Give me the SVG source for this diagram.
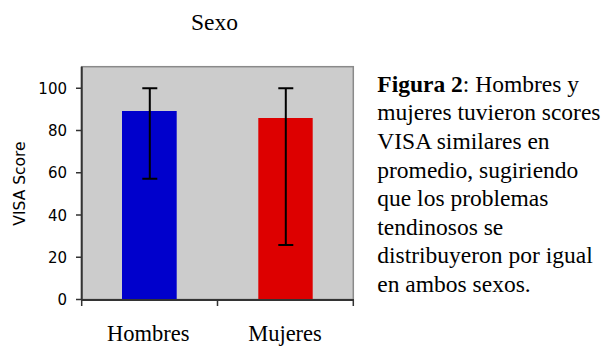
<svg xmlns="http://www.w3.org/2000/svg" width="606" height="347" viewBox="0 0 606 347">
<style>
.serif{font-family:"Liberation Serif","Times New Roman",serif;font-size:23.5px;fill:#000}
.cat{font-family:"Liberation Serif","Times New Roman",serif;font-size:22.5px;fill:#000;text-anchor:middle}
.tick{font-family:"DejaVu Sans",Verdana,sans-serif;font-size:15px;fill:#000;text-anchor:end}
.axis{stroke:#333;stroke-width:2;fill:none}
.err{stroke:#000;stroke-width:2;fill:none}
</style>
<rect width="606" height="347" fill="#fff"/>
<text class="serif" x="214.5" y="30" text-anchor="middle">Sexo</text>
<g id="plot">
<rect x="81.7" y="66.7" width="271.6" height="232.8" fill="#cccccc" stroke="#8a8a8a" stroke-width="1.5"/>
</g>
<g id="bar-hombres">
<rect x="122" y="111" width="54.7" height="188.5" fill="#0000cc"/>
</g>
<g id="bar-mujeres">
<rect x="258.3" y="118" width="54.4" height="181.5" fill="#dd0000"/>
</g>
<g id="errorbars">
<path class="err" d="M149.8 88.3V178.7M142.3 88.3H157.3M142.3 178.7H157.3"/>
<path class="err" d="M285.8 88.3V245M278.3 88.3H293.3M278.3 245H293.3"/>
</g>
<g id="axes">
<path class="axis" d="M81.7 66.7V300M81 300H354"/>
<path stroke="#333" stroke-width="1.5" d="M76 299.5H82M76 257.3H82M76 215.1H82M76 172.8H82M76 130.6H82M76 88.3H82M81.7 300V306M217.5 300V306M353.3 300V306"/>
</g>
<g id="ticklabels">
<text class="tick" x="67" y="305">0</text>
<text class="tick" x="67" y="262.8">20</text>
<text class="tick" x="67" y="220.6">40</text>
<text class="tick" x="67" y="178.3">60</text>
<text class="tick" x="67" y="136.1">80</text>
<text class="tick" x="67" y="93.8">100</text>
</g>
<text font-family="DejaVu Sans,Verdana,sans-serif" font-size="15.5" text-anchor="middle" transform="translate(24.5 183.5) rotate(-90)">VISA Score</text>
<text class="cat" x="148.3" y="341">Hombres</text>
<text class="cat" x="285" y="341">Mujeres</text>
<g id="caption" class="serif">
<text class="serif" x="377.3" y="91.7"><tspan font-weight="bold">Figura 2</tspan>: Hombres y</text>
<text class="serif" x="377.3" y="120.3">mujeres tuvieron scores</text>
<text class="serif" x="377.3" y="148.9">VISA similares en</text>
<text class="serif" x="377.3" y="177.5">promedio, sugiriendo</text>
<text class="serif" x="377.3" y="206.1">que los problemas</text>
<text class="serif" x="377.3" y="234.7">tendinosos se</text>
<text class="serif" x="377.3" y="263.3">distribuyeron por igual</text>
<text class="serif" x="377.3" y="291.9">en ambos sexos.</text>
</g>
</svg>
